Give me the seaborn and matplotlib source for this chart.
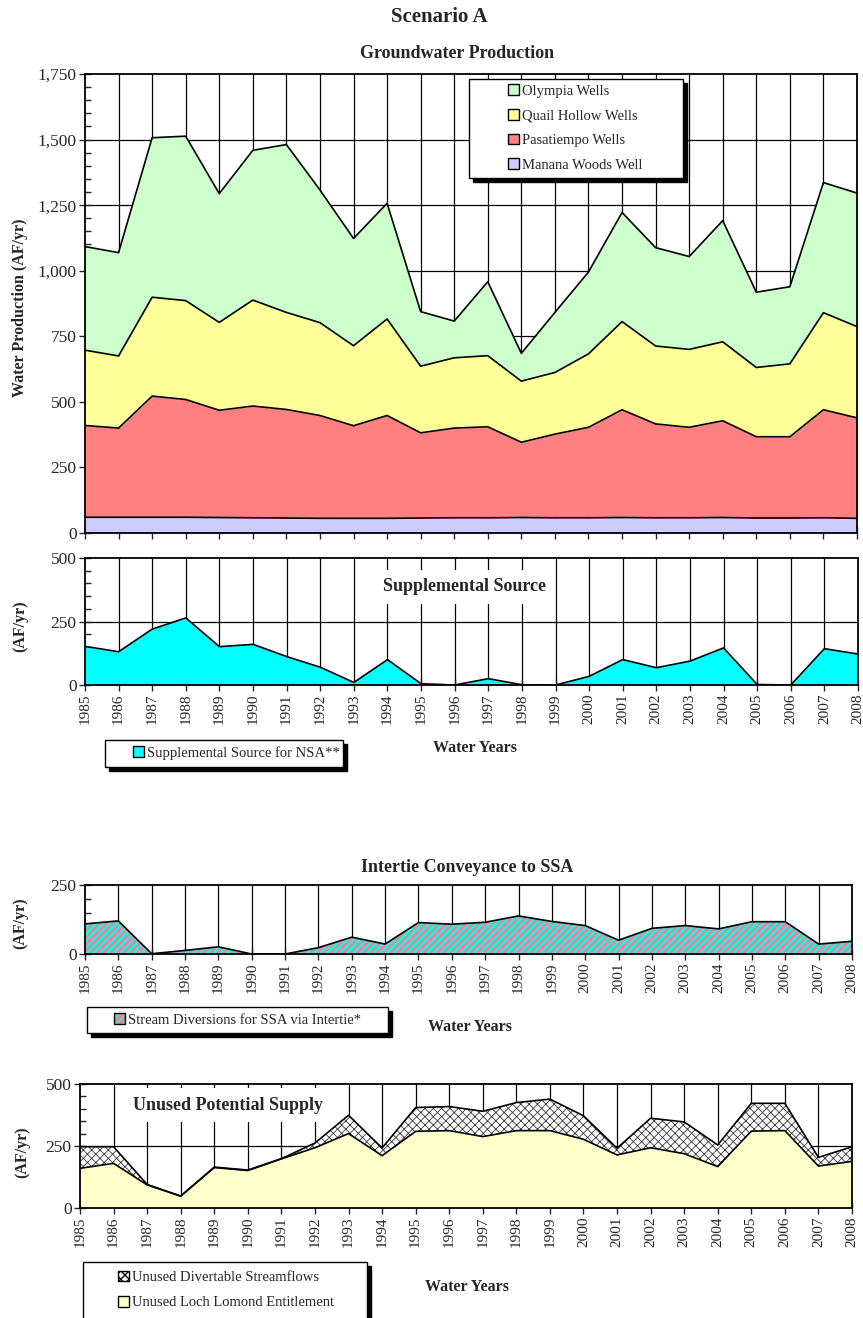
import numpy as np
import pandas as pd
import matplotlib
matplotlib.use("Agg")
import matplotlib.pyplot as plt
from matplotlib.patches import Patch, Rectangle
from matplotlib.ticker import MultipleLocator, FuncFormatter
import seaborn as sns

# ---------------- data ----------------
years = list(range(1985, 2009))
manana_woods = [60, 60, 60, 60, 59, 58, 57, 56, 56, 56, 57, 58, 58, 59, 58, 58, 59, 58, 58, 59, 57, 57, 58, 56]
pasatiempo = [350, 340, 462, 449, 409, 426, 414, 392, 353, 392, 325, 342, 347, 287, 319, 345, 411, 358, 345, 369, 310, 310, 412, 383]
quail_hollow = [287, 275, 377, 377, 335, 404, 370, 354, 305, 368, 254, 268, 271, 233, 235, 280, 336, 297, 297, 301, 264, 278, 370, 348]
olympia = [395, 394, 608, 627, 491, 571, 640, 506, 409, 441, 208, 140, 282, 106, 229, 312, 416, 375, 354, 462, 287, 294, 496, 509]
supplemental_nsa = [152, 131, 220, 264, 151, 160, 112, 70, 10, 100, 5, 0, 25, 1, 0, 34, 100, 68, 94, 146, 2, 0, 143, 122]
intertie_ssa = [109, 120, 1, 13, 26, 0, 0, 23, 61, 36, 114, 108, 115, 138, 118, 103, 50, 93, 103, 91, 117, 117, 36, 46]
loch_lomond = [160, 180, 93, 48, 163, 151, 198, 243, 300, 211, 309, 312, 288, 312, 312, 277, 214, 243, 219, 167, 310, 312, 169, 188]
divertable = [87, 67, 2, 0, 2, 2, 1, 19, 74, 31, 96, 97, 102, 113, 127, 95, 27, 119, 128, 87, 112, 110, 35, 59]
year_labels = [str(y) for y in years]

df = pd.DataFrame({"year": years, "manana": manana_woods, "pasa": pasatiempo,
                   "quail": quail_hollow, "olympia": olympia})

# ---------------- style ----------------
sns.set_style("white")
plt.rcParams['font.family'] = ['Liberation Serif', 'DejaVu Serif']

W, H = 863, 1318
fig = plt.figure(figsize=(W / 100, H / 100), dpi=100)


def fx(x):
    return x / W


def fy(y):
    return 1 - y / H


def axes_px(x0, y0, x1, y1):
    return fig.add_axes([fx(x0), fy(y1), (x1 - x0) / W, (y1 - y0) / H])


def style_axes(ax, ymax, major, xlabels=True):
    ax.set_xlim(1985, 2008)
    ax.set_ylim(0, ymax)
    ax.set_xticks(years)
    if xlabels:
        ax.set_xticklabels(year_labels, rotation=90, fontsize=11)
    else:
        ax.set_xticklabels([])
    ax.yaxis.set_major_locator(MultipleLocator(major))
    ax.yaxis.set_minor_locator(MultipleLocator(50))
    ax.yaxis.set_major_formatter(FuncFormatter(lambda v, p: f"{int(v):,}"))
    ax.tick_params(axis='y', which='major', direction='inout', length=8, width=1,
                   labelsize=12.5, pad=2, left=True)
    ax.tick_params(axis='y', which='minor', direction='in', length=4, width=1, left=True)
    ax.tick_params(axis='x', which='major', direction='inout', length=8, width=1,
                   pad=2, bottom=True)
    ax.set_xlabel("")
    ax.set_ylabel("")
    for x in years[1:-1]:
        ax.axvline(x, color='black', lw=0.9, zorder=0.5)
    for yv in np.arange(major, ymax, major):
        ax.axhline(yv, color='black', lw=0.9, zorder=0.5)
    for s in ax.spines.values():
        s.set_linewidth(1.3)
        s.set_color('black')
        s.set_zorder(5)


def legend_box(x0, y0, x1, y1):
    sh = Rectangle((fx(x0 + 4), fy(y1 + 4)), (x1 - x0) / W, (y1 - y0) / H,
                   transform=fig.transFigure, facecolor='black', edgecolor='black',
                   zorder=3)
    bx = Rectangle((fx(x0), fy(y1)), (x1 - x0) / W, (y1 - y0) / H,
                   transform=fig.transFigure, facecolor='white', edgecolor='black',
                   lw=1.0, zorder=3.1)
    fig.patches.extend([sh, bx])


def add_legend(handles, labels, xleft, ycenter, spacing=0.5):
    fig.legend(handles, labels, loc='center left',
               bbox_to_anchor=(fx(xleft), fy(ycenter)), bbox_transform=fig.transFigure,
               frameon=False, fontsize=10.5, handlelength=0.75, handleheight=0.75,
               handletextpad=0.2, labelspacing=spacing, borderpad=0, borderaxespad=0)


# ---------------- Groundwater production ----------------
ax1 = axes_px(85, 74, 857, 533)
style_axes(ax1, 1750, 250, xlabels=False)
series = [("manana", '#CCCCFF'), ("pasa", '#FF8080'), ("quail", '#FFFF99'), ("olympia", '#CCFFCC')]
base = np.zeros(len(years))
for col, colr in series:
    top = base + df[col].to_numpy()
    ax1.fill_between(df["year"], base, top, color=colr, lw=0, zorder=2)
    sns.lineplot(x=df["year"], y=top, color='black', lw=1.2, ax=ax1, zorder=3, legend=False)
    base = top
ax1.set_xlabel("")
ax1.set_ylabel("")

fig.text(fx(439), fy(17), "Scenario A", ha='center', va='center', fontsize=15, fontweight='bold')
fig.text(fx(457), fy(54), "Groundwater Production", ha='center', va='center', fontsize=13,
         fontweight='bold')
fig.text(fx(20), fy(308), "Water Production (AF/yr)", rotation=90, ha='center', va='center',
         fontsize=11.5, fontweight='bold')

legend_box(469, 79, 683, 178)
h1 = [Patch(facecolor='#CCFFCC', edgecolor='black', lw=1),
      Patch(facecolor='#FFFF99', edgecolor='black', lw=1),
      Patch(facecolor='#FF8080', edgecolor='black', lw=1),
      Patch(facecolor='#CCCCFF', edgecolor='black', lw=1)]
add_legend(h1, ["Olympia Wells", "Quail Hollow Wells", "Pasatiempo Wells", "Manana Woods Well"],
           508, 128, spacing=0.78)

# ---------------- Supplemental source ----------------
ax2 = axes_px(85, 558, 858, 685)
style_axes(ax2, 500, 250)
ax2.fill_between(years, 0, supplemental_nsa, color='#00FFFF', lw=0, zorder=2)
sns.lineplot(x=years, y=supplemental_nsa, color='black', lw=1.2, ax=ax2, zorder=3, legend=False)
ax2.set_xlabel("")
ax2.set_ylabel("")
ax2.text(1996.3, 386, "Supplemental Source", ha='center', va='center', fontsize=13,
         fontweight='bold', zorder=4,
         bbox=dict(facecolor='white', edgecolor='none', pad=6))
fig.text(fx(20), fy(626), "(AF/yr)", rotation=90, ha='center', va='center',
         fontsize=11.5, fontweight='bold')
fig.text(fx(475), fy(748), "Water Years", ha='center', va='center', fontsize=11.5,
         fontweight='bold')
legend_box(105, 740, 343, 767)
add_legend([Patch(facecolor='#00FFFF', edgecolor='black', lw=1)],
           ["Supplemental Source for NSA**"], 133, 753)

# ---------------- Intertie conveyance ----------------
ax3 = axes_px(85, 885, 852, 954)
style_axes(ax3, 250, 250)
with plt.rc_context({'hatch.linewidth': 1.7}):
    ax3.fill_between(years, 0, intertie_ssa, facecolor='#FF8080', edgecolor='#00FFFF',
                     hatch='/////', lw=0, zorder=2)
    hp = Patch(facecolor='#FF8080', edgecolor='#00FFFF', hatch='/////', lw=0)
sns.lineplot(x=years, y=intertie_ssa, color='black', lw=1.2, ax=ax3, zorder=3, legend=False)
ax3.set_xlabel("")
ax3.set_ylabel("")
fig.text(fx(467), fy(868), "Intertie Conveyance to SSA", ha='center', va='center',
         fontsize=13, fontweight='bold')
fig.text(fx(20), fy(923), "(AF/yr)", rotation=90, ha='center', va='center',
         fontsize=11.5, fontweight='bold')
fig.text(fx(470), fy(1027), "Water Years", ha='center', va='center', fontsize=11.5,
         fontweight='bold')
legend_box(87, 1007, 388, 1033)
add_legend([(hp, Patch(facecolor='none', edgecolor='black', lw=1))],
           ["Stream Diversions for SSA via Intertie*"], 114, 1020)

# ---------------- Unused potential supply ----------------
ax4 = axes_px(80, 1084, 852, 1208)
style_axes(ax4, 500, 250)
loch = np.array(loch_lomond)
tot = loch + np.array(divertable)
ax4.fill_between(years, 0, loch, color='#FFFFCC', lw=0, zorder=2)
with plt.rc_context({'hatch.linewidth': 0.6}):
    ax4.fill_between(years, loch, tot, facecolor='white', edgecolor='#3a3a3a', hatch='xxxx',
                     lw=0, zorder=2)
    hx = Patch(facecolor='white', edgecolor='black', hatch='xxxx', lw=1)
sns.lineplot(x=years, y=loch, color='black', lw=1.2, ax=ax4, zorder=3, legend=False)
sns.lineplot(x=years, y=tot, color='black', lw=1.2, ax=ax4, zorder=3, legend=False)
ax4.set_xlabel("")
ax4.set_ylabel("")
ax4.text(1989.4, 415, "Unused Potential Supply", ha='center', va='center', fontsize=13,
         fontweight='bold', zorder=4,
         bbox=dict(facecolor='white', edgecolor='none', pad=6))
fig.text(fx(22), fy(1152), "(AF/yr)", rotation=90, ha='center', va='center',
         fontsize=11.5, fontweight='bold')
fig.text(fx(467), fy(1287), "Water Years", ha='center', va='center', fontsize=11.5,
         fontweight='bold')
legend_box(83, 1262, 367, 1340)
add_legend([hx, Patch(facecolor='#FFFFCC', edgecolor='black', lw=1)],
           ["Unused Divertable Streamflows", "Unused Loch Lomond Entitlement"], 118, 1290,
           spacing=0.8)

fig.savefig("out.png", dpi=100)
